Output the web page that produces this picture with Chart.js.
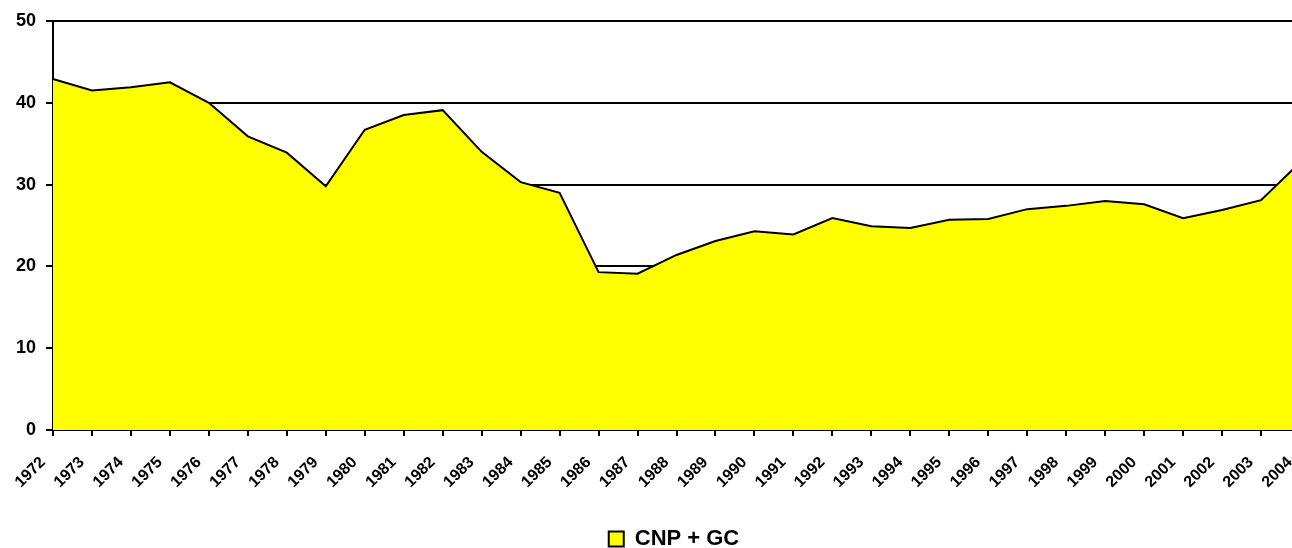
<!DOCTYPE html>
<html>
<head>
<meta charset="utf-8">
<script src="https://cdn.jsdelivr.net/npm/chart.js@4/dist/chart.umd.min.js"></script>
<style>
  body { margin: 0; background: #fff; overflow: hidden; }
  #wrap { width: 1292px; height: 548px; overflow: hidden; }
</style>
</head>
<body>
<div id="wrap"><canvas id="chart" width="1300" height="560"></canvas></div>
<script>
"use strict";

const years = ["1972", "1973", "1974", "1975", "1976", "1977", "1978", "1979", "1980", "1981",
    "1982", "1983", "1984", "1985", "1986", "1987", "1988", "1989", "1990", "1991",
    "1992", "1993", "1994", "1995", "1996", "1997", "1998", "1999", "2000", "2001",
    "2002", "2003", "2004"];
const cnpGc = [42.9, 41.5, 41.9, 42.5, 40.0, 35.9, 33.9, 29.8, 36.7, 38.5,
    39.1, 34.0, 30.3, 29.0, 19.3, 19.1, 21.4, 23.1, 24.3, 23.9,
    25.9, 24.9, 24.7, 25.7, 25.8, 27.0, 27.4, 28.0, 27.6, 25.9,
    26.9, 28.1, 32.7];
const yTicks = [0, 10, 20, 30, 40, 50];

const fontFamily = "'Liberation Sans', Arial, sans-serif";

// the legend in the original sits a little right of the canvas centre
const shiftLegend = {
    id: "shiftLegend",
    afterLayout(chart) {
        chart.legend.left += 24;
        chart.legend.right += 24;
    }
};

let ctx = document.getElementById("chart").getContext("2d");
let myChart = new Chart(ctx, {
    type: "line",
    data: {
        labels: years,
        datasets: [{
            label: "CNP + GC",
            data: cnpGc,
            fill: "origin",
            backgroundColor: "#ffff00",
            borderColor: "#000000",
            borderWidth: 2,
            pointRadius: 0,
            tension: 0
        }]
    },
    options: {
        responsive: false,
        animation: false,
        layout: { padding: { top: 21, right: 0, left: 0, bottom: 0 } },
        plugins: {
            legend: {
                position: "bottom",
                labels: {
                    color: "#000",
                    boxWidth: 15,
                    boxHeight: 15,
                    padding: 2,
                    font: { family: fontFamily, size: 22, weight: "bold" }
                }
            },
            tooltip: { enabled: false }
        },
        scales: {
            x: {
                offset: false,
                border: { color: "#000", width: 2 },
                grid: { drawOnChartArea: false, drawTicks: true, tickLength: 6, color: "#000", lineWidth: 2 },
                ticks: {
                    color: "#000",
                    font: { family: fontFamily, size: 16, weight: "bold" },
                    minRotation: 45,
                    maxRotation: 45,
                    autoSkip: false,
                    padding: 17,
                    labelOffset: -10
                },
                afterFit: function (scale) {
                    scale.height = 96;
                    scale.paddingLeft = 0;
                    scale.paddingRight = 0;
                }
            },
            y: {
                min: 0,
                max: 50,
                border: { color: "#000", width: 2 },
                grid: { color: "#000", lineWidth: 2, tickLength: 7 },
                afterBuildTicks: function (scale) {
                    scale.ticks = yTicks.map(v => ({ value: v }));
                },
                ticks: { color: "#000", font: { family: fontFamily, size: 18, weight: "bold" }, padding: 10 },
                afterFit: function (scale) { scale.width = 53; }
            }
        }
    },
    plugins: [shiftLegend]
});
</script>
</body>
</html>
